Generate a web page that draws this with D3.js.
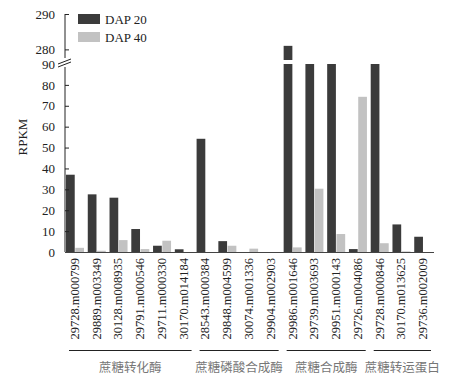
<!DOCTYPE html>
<html>
<head>
<meta charset="utf-8">
<script src="https://cdn.jsdelivr.net/npm/d3@7"></script>
<style>
  body { margin: 0; background: #fff; }
  svg text { font-family: "Liberation Serif", "DejaVu Serif", serif; }
</style>
</head>
<body>
<div id="chart"></div>
<script>
var genes = ["29728.m000799", "29889.m003349", "30128.m008935", "29791.m000546", "29711.m000330", "30170.m014184",
             "28543.m000384", "29848.m004599", "30074.m001336", "29904.m002903",
             "29986.m001646", "29739.m003693", "29951.m000143", "29726.m004086",
             "29728.m000846", "30170.m013625", "29736.m002009"];
var dap20 = [37, 27.6, 26, 11, 3, 1.3, 54.2, 5.2, 0, 0, 281, 90, 90, 1.4, 90, 13.2, 7.3];
var dap40 = [2, 0.6, 5.7, 1.4, 5.4, 0, 0, 3, 1.6, 0, 2.2, 30.3, 8.6, 74.3, 4.2, 0.3, 0];
var seriesNames = ["DAP 20", "DAP 40"];
var groups = [
  {name: "蔗糖转化酶", from: 0, to: 5},
  {name: "蔗糖磷酸合成酶", from: 6, to: 9},
  {name: "蔗糖合成酶", from: 10, to: 13},
  {name: "蔗糖转运蛋白", from: 14, to: 16}
];
var lowTicks = [0, 10, 20, 30, 40, 50, 60, 70, 80, 90];
var highTicks = [280, 290];

var width = 462, height = 381;
var colors = ["#3b3b3b", "#c2c2c2"];

var svg = d3.select("#chart").append("svg")
    .attr("width", width)
    .attr("height", height);

var x = d3.scaleBand().domain(genes).range([65, 435]).paddingInner(0).paddingOuter(0);
var x1 = d3.scaleBand().domain(seriesNames).range([1, 19]).paddingInner(0.06);
var yLow = d3.scaleLinear().domain([0, 90]).range([252, 64]);
var yHigh = d3.scaleLinear().domain([277, 290]).range([60, 14]);

var data = genes.map(function(g, i) { return {gene: g, vals: [dap20[i], dap40[i]]}; });

// bars
var grp = svg.selectAll(".grp")
    .data(data)
  .enter().append("g")
    .attr("transform", function(d) { return "translate(" + x(d.gene) + ",0)"; });

grp.selectAll(".low")
    .data(function(d) { return d.vals.map(function(v, k) { return {k: k, v: v}; }); })
  .enter().append("rect")
    .attr("x", function(d) { return x1(seriesNames[d.k]); })
    .attr("width", x1.bandwidth())
    .attr("y", function(d) { return yLow(Math.min(d.v, 90)); })
    .attr("height", function(d) { return yLow(0) - yLow(Math.min(d.v, 90)); })
    .attr("fill", function(d) { return colors[d.k]; });

grp.selectAll(".high")
    .data(function(d) { return d.vals.map(function(v, k) { return {k: k, v: v}; }).filter(function(d) { return d.v > 277; }); })
  .enter().append("rect")
    .attr("x", function(d) { return x1(seriesNames[d.k]); })
    .attr("width", x1.bandwidth())
    .attr("y", function(d) { return yHigh(d.v); })
    .attr("height", function(d) { return yHigh(277) - yHigh(d.v); })
    .attr("fill", function(d) { return colors[d.k]; });

// axes
var axLow = svg.append("g")
    .attr("transform", "translate(65,0)")
    .call(d3.axisLeft(yLow).tickValues(lowTicks).tickSizeInner(-4).tickSizeOuter(0).tickPadding(10));
axLow.select(".domain").attr("d", "M0,252V67");

var axHigh = svg.append("g")
    .attr("transform", "translate(65,0)")
    .call(d3.axisLeft(yHigh).tickValues(highTicks).tickSizeInner(-4).tickSizeOuter(0).tickPadding(10));
axHigh.select(".domain").attr("d", "M0,14V58");

svg.selectAll(".tick text")
    .attr("font-family", "Liberation Serif")
    .attr("font-size", 13)
    .attr("fill", "#222");
svg.selectAll(".tick line").attr("stroke", "#222");
svg.selectAll(".domain").attr("stroke", "#222");

// break marks
svg.append("rect").attr("x", 58).attr("y", 59).attr("width", 13).attr("height", 8).attr("fill", "#fff");
[0, 3].forEach(function(o) {
  svg.append("line")
      .attr("x1", 58).attr("y1", 64 + o)
      .attr("x2", 71).attr("y2", 59 + o)
      .attr("stroke", "#222").attr("stroke-width", 1);
});

// x axis line
svg.append("line")
    .attr("x1", 65).attr("x2", 434)
    .attr("y1", 252.5).attr("y2", 252.5)
    .attr("stroke", "#444");

// gene labels
svg.selectAll(".glabel")
    .data(genes)
  .enter().append("text")
    .attr("transform", function(d) { return "translate(" + (x(d) + x.bandwidth() / 2 - 1 + 4) + ",258) rotate(-90)"; })
    .attr("text-anchor", "end")
    .attr("font-size", 12.5)
    .attr("fill", "#222")
    .text(function(d) { return d; });

// group brackets
svg.selectAll(".gline")
    .data(groups)
  .enter().append("line")
    .attr("x1", function(d) { return x(genes[d.from]) + 4; })
    .attr("x2", function(d) { return x(genes[d.to]) + x.bandwidth() - 4; })
    .attr("y1", 350.5).attr("y2", 350.5)
    .attr("stroke", "#222");

svg.selectAll(".gname")
    .data(groups)
  .enter().append("text")
    .attr("x", function(d) { return (x(genes[d.from]) + x(genes[d.to]) + x.bandwidth()) / 2; })
    .attr("y", 372)
    .attr("text-anchor", "middle")
    .style("font-family", "'Noto Sans CJK SC'")
    .attr("font-size", 12.5)
    .attr("fill", "#777")
    .text(function(d) { return d.name; });

// y title
svg.append("text")
    .attr("transform", "translate(27,137) rotate(-90)")
    .attr("text-anchor", "middle")
    .attr("font-size", 13)
    .attr("fill", "#222")
    .text("RPKM");

// legend
var leg = svg.selectAll(".leg")
    .data(seriesNames)
  .enter().append("g")
    .attr("transform", function(d, i) { return "translate(78," + (14 + i * 18) + ")"; });
leg.append("rect").attr("width", 22).attr("height", 10).attr("fill", function(d, i) { return colors[i]; });
leg.append("text").attr("x", 27).attr("y", 10).attr("font-size", 13).attr("fill", "#222").text(function(d) { return d; });
</script>
</body>
</html>
